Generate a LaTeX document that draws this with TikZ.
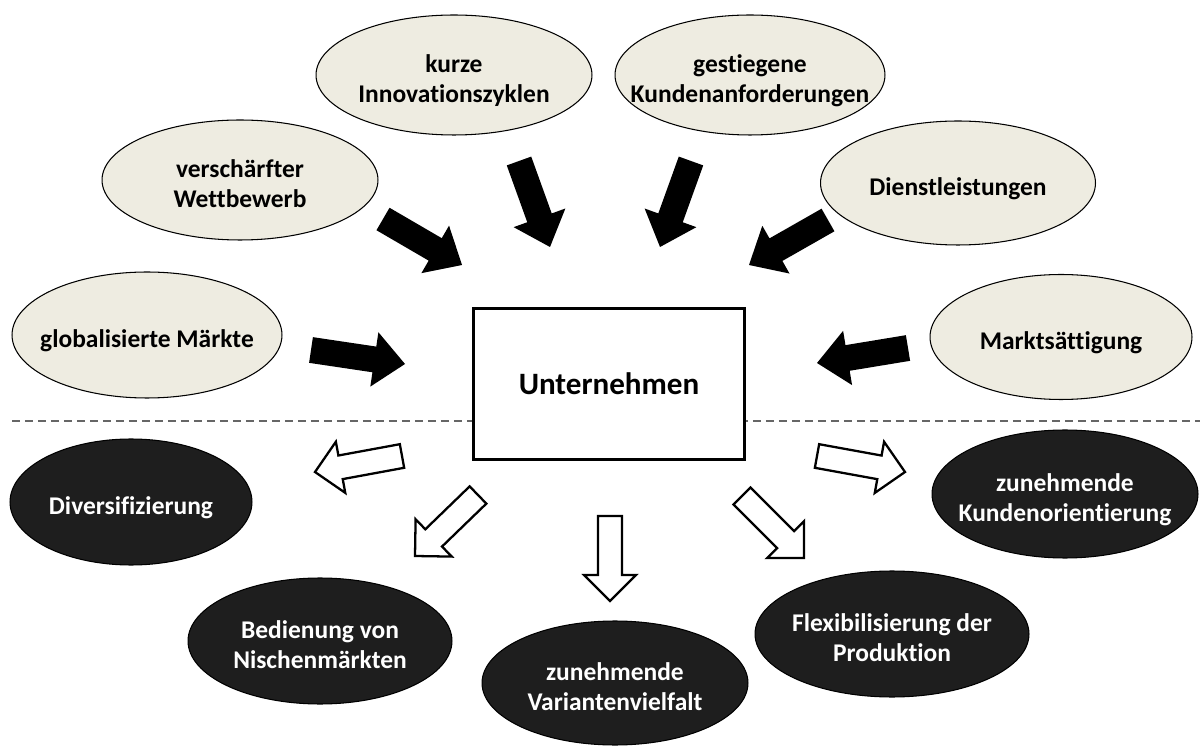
\documentclass[tikz,border=0pt]{standalone}
\usepackage{fontspec}
\setmainfont{Carlito}[Ligatures=NoCommon]
\usetikzlibrary{shapes.geometric,calc}
\definecolor{beige}{HTML}{EEECE1}
\definecolor{darkfill}{HTML}{1E1E1E}
\definecolor{dashgray}{HTML}{666666}
\newcommand\blockarrow[6]{% style, tail, tip, half shaft, half head, head length
  \coordinate (bh) at ($(#3)!#6!(#2)$);
  \path[#1] ($(#2)!#4!90:(#3)$) -- ($(bh)!#4!90:(#3)$) -- ($(bh)!#5!90:(#3)$) -- (#3)
    -- ($(bh)!#5!-90:(#3)$) -- ($(bh)!#4!-90:(#3)$) -- ($(#2)!#4!-90:(#3)$) -- cycle;
}
\newcommand\lbl[2][-3.5pt]{\makebox[0pt][c]{\raisebox{#1}[\height][\depth]{\begin{tabular}{@{}c@{}}#2\end{tabular}}}}
\tikzset{
  cause/.style={ellipse, draw=black, line width=0.6pt, fill=beige, text=black,
    font=\fontsize{14.5}{17}\selectfont\bfseries, inner sep=0pt},
  effect/.style={ellipse, draw=black, line width=0.6pt, fill=darkfill, text=white,
    font=\fontsize{14.5}{17}\selectfont\bfseries, inner sep=0pt},
  firm/.style={rectangle, draw=black, line width=1.7pt, fill=white,
    font=\fontsize{17.7}{21}\selectfont\bfseries, inner sep=0pt},
  solidarrow/.style={fill=black},
  hollowarrow/.style={draw=black, fill=white, line width=1.3pt, line join=miter},
  separator/.style={draw=dashgray, line width=0.8pt, dash pattern=on 1.6mm off 1mm}
}
\begin{document}
\begin{tikzpicture}[x=0.02cm, y=-0.02cm]
\useasboundingbox (0,0) rectangle (1200,749);
% separator
\coordinate (sepL) at (12,421);
\coordinate (sepR) at (1200,421);
\draw[separator] (sepL) -- (sepR);
% central box
\node[firm, minimum width=5.44cm, minimum height=3.04cm] (firm) at (609,384) {\lbl[-2pt]{Unternehmen}};
% causes
\node[cause, minimum width=5.4cm, minimum height=2.52cm] (c1) at (147,335) {\lbl{globalisierte Märkte}};
\node[cause, minimum width=5.52cm, minimum height=2.4cm] (c2) at (240,180) {\lbl{verschärfter\\Wettbewerb}};
\node[cause, minimum width=5.52cm, minimum height=2.4cm] (c3) at (454,75) {\lbl{kurze\\Innovationszyklen}};
\node[cause, minimum width=5.4cm, minimum height=2.4cm] (c4) at (750,75) {\lbl{gestiegene\\Kundenanforderungen}};
\node[cause, minimum width=5.5cm, minimum height=2.48cm] (c5) at (958,183) {\lbl{Dienstleistungen}};
\node[cause, minimum width=5.24cm, minimum height=2.5cm] (c6) at (1061,337) {\lbl{Marktsättigung}};
% effects
\node[effect, minimum width=4.84cm, minimum height=2.52cm] (d1) at (131,502) {\lbl{Diversifizierung}};
\node[effect, minimum width=5.28cm, minimum height=2.52cm] (d2) at (320,641) {\lbl{Bedienung von\\Nischenmärkten}};
\node[effect, minimum width=5.32cm, minimum height=2.48cm] (d3) at (615,683) {\lbl{zunehmende\\Variantenvielfalt}};
\node[effect, minimum width=5.48cm, minimum height=2.52cm] (d4) at (892,634) {\lbl{Flexibilisierung der\\Produktion}};
\node[effect, minimum width=5.32cm, minimum height=2.56cm] (d5) at (1065,494) {\lbl{zunehmende\\Kundenorientierung}};
% solid arrows (causes -> firm)
\coordinate (a1t) at (311,350); \coordinate (a1p) at (405,364);
\coordinate (a2t) at (383,219); \coordinate (a2p) at (462,265);
\coordinate (a3t) at (519,161); \coordinate (a3p) at (550,247);
\coordinate (a4t) at (691,161); \coordinate (a4p) at (660,247);
\coordinate (a5t) at (828,220); \coordinate (a5p) at (749,265);
\coordinate (a6t) at (908,348); \coordinate (a6p) at (817,363);
\blockarrow{solidarrow}{a1t}{a1p}{0.26cm}{0.55cm}{0.62cm}
\blockarrow{solidarrow}{a2t}{a2p}{0.26cm}{0.55cm}{0.62cm}
\blockarrow{solidarrow}{a3t}{a3p}{0.26cm}{0.55cm}{0.62cm}
\blockarrow{solidarrow}{a4t}{a4p}{0.26cm}{0.55cm}{0.62cm}
\blockarrow{solidarrow}{a5t}{a5p}{0.26cm}{0.55cm}{0.62cm}
\blockarrow{solidarrow}{a6t}{a6p}{0.26cm}{0.55cm}{0.62cm}
% hollow arrows (firm -> effects)
\coordinate (w1t) at (402,456); \coordinate (w1p) at (315,472);
\coordinate (w2t) at (478,495); \coordinate (w2p) at (415,556);
\coordinate (w3t) at (610,516); \coordinate (w3p) at (610,601);
\coordinate (w4t) at (742,496); \coordinate (w4p) at (804,558);
\coordinate (w5t) at (817,456); \coordinate (w5p) at (905,472);
\blockarrow{hollowarrow}{w1t}{w1p}{0.24cm}{0.52cm}{0.52cm}
\blockarrow{hollowarrow}{w2t}{w2p}{0.24cm}{0.52cm}{0.52cm}
\blockarrow{hollowarrow}{w3t}{w3p}{0.24cm}{0.52cm}{0.52cm}
\blockarrow{hollowarrow}{w4t}{w4p}{0.24cm}{0.52cm}{0.52cm}
\blockarrow{hollowarrow}{w5t}{w5p}{0.24cm}{0.52cm}{0.52cm}
\end{tikzpicture}
\end{document}
